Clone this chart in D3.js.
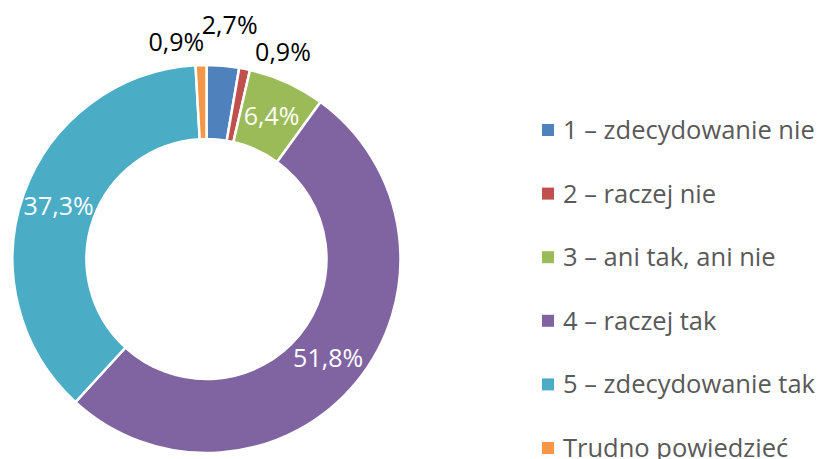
<!DOCTYPE html>
<html>
<head>
<meta charset="utf-8">
<script src="https://cdn.jsdelivr.net/npm/d3@7"></script>
<style>
  body { margin: 0; background: #fff; }
  svg { display: block; font-family: "Open Sans", sans-serif; }
</style>
</head>
<body>
<svg id="chart" width="823" height="459"></svg>
<script>
// data
const categories = [
  "1 – zdecydowanie nie",
  "2 – raczej nie",
  "3 – ani tak, ani nie",
  "4 – raczej tak",
  "5 – zdecydowanie tak",
  "Trudno powiedzieć"
]
const values = [2.7, 0.9, 6.4, 51.8, 37.3, 0.9]
const valueLabels = ["2,7%", "0,9%", "6,4%", "51,8%", "37,3%", "0,9%"]

const colors = ["#4F81BD", "#C0504D", "#9BBB59", "#8064A2", "#4BACC6", "#F79646"]

const cx = 206.5, cy = 259
const outerR = 194, innerR = 120

// small slices get their label outside, nudged like Excel does
const outside = { 0: { r: 235, da: 0.8 }, 1: { r: 220, da: 9 }, 5: { r: 219, da: -6.3 } }

const svg = d3.select('#chart')
const pie = d3.pie().sort(null).value(d => d)
const arcs = pie(values)

const arc = d3.arc().innerRadius(innerR).outerRadius(outerR)

const g = svg.append('g').attr('transform', `translate(${cx},${cy})`)

g.selectAll('path')
  .data(arcs)
  .join('path')
  .attr('d', arc)
  .attr('fill', (d, i) => colors[i])
  .attr('stroke', '#fff')
  .attr('stroke-width', 2.5)

// labels
g.selectAll('text.val')
  .data(arcs)
  .join('text')
  .attr('class', 'val')
  .attr('text-anchor', 'middle')
  .attr('dy', '0.35em')
  .attr('font-size', 25)
  .attr('fill', (d, i) => outside[i] ? '#000' : '#fff')
  .attr('transform', (d, i) => {
    let p
    if (outside[i]) {
      const a = (d.startAngle + d.endAngle) / 2 + outside[i].da * Math.PI / 180
      p = [outside[i].r * Math.sin(a), -outside[i].r * Math.cos(a)]
    } else {
      p = arc.centroid(d)
    }
    return `translate(${p[0]},${p[1]})`
  })
  .text((d, i) => valueLabels[i])

// legend
const legendY = d3.scalePoint()
  .domain(categories)
  .range([130, 448])

const legend = svg.append('g')
  .selectAll('g')
  .data(categories)
  .join('g')
  .attr('transform', d => `translate(542,${legendY(d)})`)

legend.append('rect')
  .attr('x', 0)
  .attr('y', -6)
  .attr('width', 12)
  .attr('height', 12)
  .attr('fill', (d, i) => colors[i])

legend.append('text')
  .attr('x', 21)
  .attr('dy', '0.35em')
  .attr('font-size', 25.5)
  .attr('fill', '#595959')
  .text(d => d)
</script>
</body>
</html>
